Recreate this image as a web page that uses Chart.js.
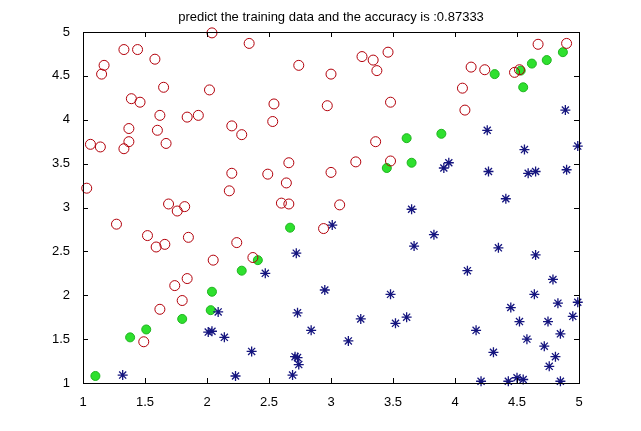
<!DOCTYPE html>
<html>
<head>
<meta charset="utf-8">
<script src="https://cdn.jsdelivr.net/npm/chart.js@4/dist/chart.umd.min.js"></script>
<style>
  html, body { margin: 0; padding: 0; background: #fff; }
  #wrap { width: 641px; height: 431px; }
</style>
</head>
<body>
<div id="wrap"><canvas id="c" width="641" height="431"></canvas></div>
<script>
// ─── data ──────────────────────────────────────────────
const TITLE = 'predict the training data and the accuracy is :0.87333';

// red open circles
const circleX = [2.04, 2.34, 1.33, 1.44, 1.58, 1.17, 1.15, 1.65, 2.02, 1.39, 1.46, 1.62, 1.84, 1.93, 2.20, 2.28,
  1.37, 1.60, 1.06, 1.14, 1.37, 1.33, 1.67, 2.20, 2.18, 1.03, 2.74, 3.00, 3.25, 3.34, 3.37, 3.46,
  2.54, 2.97, 3.48, 2.53, 3.36, 2.66, 3.20, 3.48, 2.49, 3.00, 2.64, 4.67, 4.90, 4.52, 4.48, 4.24,
  4.13, 4.06, 4.08, 1.69, 1.76, 1.82, 1.27, 1.52, 1.85, 1.59, 1.66, 2.24, 2.05, 2.37, 1.84, 1.74,
  1.80, 1.62, 1.49, 2.60, 2.66, 3.07, 2.94];
const circleY = [4.99, 4.87, 4.80, 4.80, 4.69, 4.62, 4.52, 4.37, 4.34, 4.24, 4.20, 4.05, 4.03, 4.05, 3.93, 3.83,
  3.90, 3.88, 3.72, 3.69, 3.75, 3.67, 3.73, 3.39, 3.19, 3.22, 4.62, 4.52, 4.72, 4.68, 4.56, 4.77,
  4.18, 4.16, 4.20, 3.98, 3.75, 3.51, 3.52, 3.53, 3.38, 3.40, 3.28, 4.86, 4.87, 4.57, 4.54, 4.57,
  4.60, 4.36, 4.11, 3.04, 2.96, 3.01, 2.81, 2.68, 2.66, 2.55, 2.58, 2.60, 2.40, 2.43, 2.19, 2.11,
  1.94, 1.84, 1.47, 3.05, 3.04, 3.03, 2.76];

// blue stars
const starX = [4.89, 4.26, 4.56, 4.99, 3.91, 3.95, 4.27, 4.59, 4.65, 4.90, 4.41, 2.09, 1.32, 2.01, 2.04, 2.14,
  2.36, 2.23, 3.01, 3.65, 3.67, 2.72, 2.47, 2.95, 3.48, 2.73, 3.24, 3.61, 3.52, 2.84, 3.14, 2.71,
  2.73, 2.74, 2.69, 3.83, 4.35, 4.65, 4.10, 4.79, 4.64, 4.83, 4.99, 4.45, 4.52, 4.75, 4.95, 4.17,
  4.85, 4.58, 4.72, 4.31, 4.81, 4.76, 4.21, 4.43, 4.50, 4.55, 4.85];
const starY = [4.11, 3.88, 3.66, 3.70, 3.45, 3.51, 3.41, 3.39, 3.41, 3.43, 3.10, 1.81, 1.09, 1.58, 1.59, 1.52,
  1.36, 1.08, 2.80, 2.98, 2.56, 2.48, 2.25, 2.06, 2.01, 1.80, 1.73, 1.75, 1.68, 1.60, 1.48, 1.30,
  1.29, 1.21, 1.09, 2.69, 2.54, 2.46, 2.28, 2.18, 2.01, 1.91, 1.92, 1.86, 1.70, 1.70, 1.76, 1.60,
  1.56, 1.50, 1.42, 1.35, 1.30, 1.19, 1.02, 1.02, 1.06, 1.04, 1.02];

// green filled dots
const greenX = [3.61, 3.45, 3.65, 4.87, 4.74, 4.62, 4.53, 4.32, 4.55, 3.89, 2.41, 2.28, 2.04, 2.03, 1.80, 1.51,
  1.38, 1.10, 2.67];
const greenY = [3.79, 3.45, 3.51, 4.77, 4.68, 4.64, 4.56, 4.52, 4.37, 3.84, 2.40, 2.28, 2.04, 1.83, 1.73, 1.61,
  1.52, 1.08, 2.77];

const X_TICKS = [1, 1.5, 2, 2.5, 3, 3.5, 4, 4.5, 5];
const Y_TICKS = [1, 1.5, 2, 2.5, 3, 3.5, 4, 4.5, 5];

const pts = (xs, ys) => xs.map((x, i) => ({ x, y: ys[i] }));

const FONT = { family: 'Arial, "Liberation Sans", sans-serif', size: 13 };

// ─── title centred over the axes box ─────────────────────
const titlePlugin = {
  id: 'axTitle',
  afterDraw(chart) {
    const { ctx, chartArea: a } = chart;
    ctx.save();
    ctx.fillStyle = '#000';
    ctx.font = `${FONT.size}px ${FONT.family}`;
    ctx.textAlign = 'center';
    ctx.textBaseline = 'middle';
    ctx.fillText(TITLE, (a.left + a.right) / 2, 17);
    ctx.restore();
  },
};

// ─── matlab-style box with inner ticks ───────────────────
const boxPlugin = {
  id: 'box',
  afterDatasetsDraw(chart) {
    const { ctx, chartArea: a, scales } = chart;
    const L = 5;
    ctx.save();
    ctx.strokeStyle = '#000';
    ctx.lineWidth = 1;
    ctx.beginPath();
    X_TICKS.forEach(v => {
      const px = Math.round(scales.x.getPixelForValue(v)) + 0.5;
      ctx.moveTo(px, a.bottom); ctx.lineTo(px, a.bottom - L);
      ctx.moveTo(px, a.top);    ctx.lineTo(px, a.top + L);
    });
    Y_TICKS.forEach(v => {
      const py = Math.round(scales.y.getPixelForValue(v)) + 0.5;
      ctx.moveTo(a.left, py);  ctx.lineTo(a.left + L, py);
      ctx.moveTo(a.right, py); ctx.lineTo(a.right - L, py);
    });
    ctx.stroke();
    ctx.strokeRect(Math.round(a.left) + 0.5, Math.round(a.top) + 0.5,
      Math.round(a.right - a.left), Math.round(a.bottom - a.top));
    ctx.restore();
  },
};

const bgPlugin = {
  id: 'bg',
  beforeDraw(chart) {
    const { ctx, width, height } = chart;
    ctx.save();
    ctx.fillStyle = '#fff';
    ctx.fillRect(0, 0, width, height);
    ctx.restore();
  },
};

const fmt = v => String(Math.round(v * 10) / 10);

new Chart(document.getElementById('c').getContext('2d'), {
  type: 'scatter',
  data: {
    datasets: [
      {
        label: 'class 1', data: pts(circleX, circleY),
        pointStyle: 'circle', pointRadius: 5, pointBorderWidth: 1,
        borderColor: '#b3000a', backgroundColor: 'rgba(255,255,255,0)', clip: false,
      },
      {
        label: 'class 2', data: pts(starX, starY),
        pointStyle: 'star', pointRadius: 5, pointBorderWidth: 1.3,
        borderColor: '#15157f', backgroundColor: '#15157f', clip: false,
      },
      {
        label: 'wrong', data: pts(greenX, greenY),
        pointStyle: 'circle', pointRadius: 4.5, pointBorderWidth: 1,
        borderColor: '#1fb51f', backgroundColor: '#2ee02e', clip: false,
      },
    ],
  },
  options: {
    responsive: false,
    animation: false,
    events: [],
    layout: { padding: { left: 0, right: 62, top: 32, bottom: 0 } },
    plugins: {
      legend: { display: false },
      tooltip: { enabled: false },
      title: { display: false },
    },
    scales: {
      x: {
        type: 'linear', min: 1, max: 5,
        afterBuildTicks: s => { s.ticks = X_TICKS.map(v => ({ value: v })); },
        afterFit: s => { s.height = 48; },
        grid: { display: false },
        border: { display: false },
        ticks: { color: '#000', font: FONT, padding: 4, maxRotation: 0, callback: fmt },
      },
      y: {
        type: 'linear', min: 1, max: 5,
        afterBuildTicks: s => { s.ticks = Y_TICKS.map(v => ({ value: v })); },
        afterFit: s => { s.width = 83; },
        grid: { display: false },
        border: { display: false },
        ticks: { color: '#000', font: FONT, padding: 5, callback: fmt },
      },
    },
  },
  plugins: [bgPlugin, boxPlugin, titlePlugin],
});
</script>
</body>
</html>
